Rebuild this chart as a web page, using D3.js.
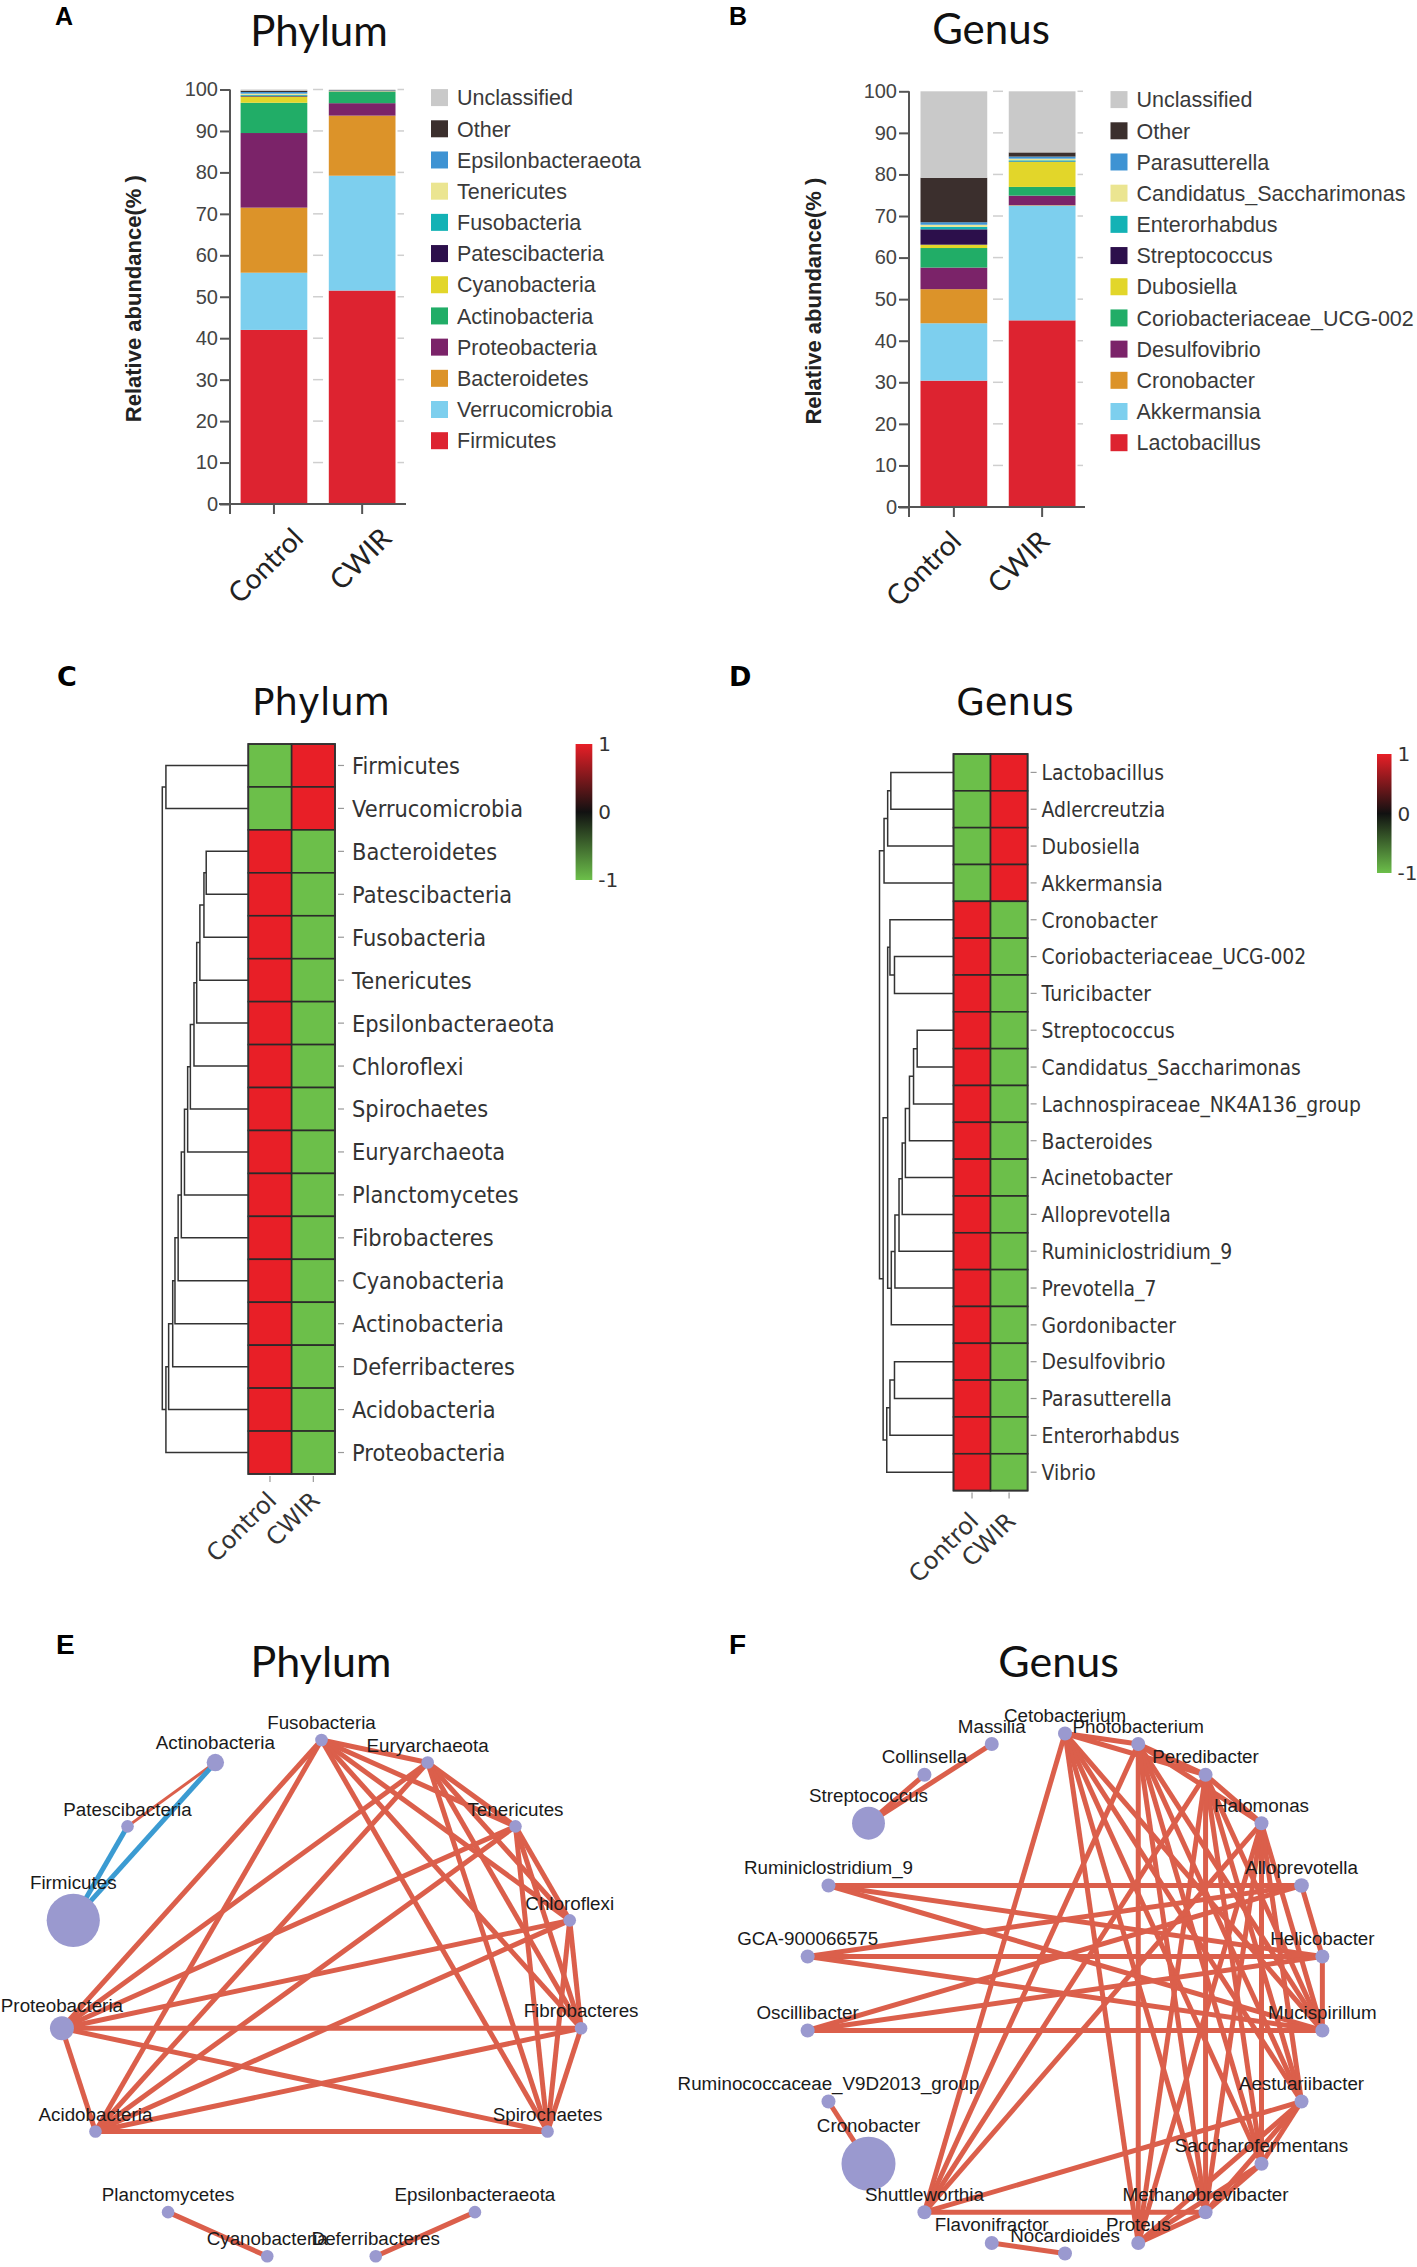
<!DOCTYPE html>
<html>
<head>
<meta charset="utf-8">
<script src="https://cdn.jsdelivr.net/npm/d3@7"></script>
<style>
  html,body{margin:0;padding:0;background:#fff;}
  svg{display:block;}
</style>
</head>
<body>
<svg id="chart" width="1417" height="2267"></svg>
<script>
// ================= DATA =================
const groups = ["Control", "CWIR"];
const yTicks = [0, 10, 20, 30, 40, 50, 60, 70, 80, 90, 100];

// Panel A: phylum relative abundance (%)
const phylumTaxa = ["Firmicutes","Verrucomicrobia","Bacteroidetes","Proteobacteria","Actinobacteria","Cyanobacteria","Patescibacteria","Fusobacteria","Tenericutes","Epsilonbacteraeota","Other","Unclassified"];
const phylumControl = [42.0, 13.8, 15.7, 18.0, 7.3, 1.5, 0.2, 0.2, 0.3, 0.4, 0.3, 0.3];
const phylumCWIR    = [51.5, 27.7, 14.5, 3.0, 2.7, 0.1, 0.05, 0.05, 0.05, 0.1, 0.1, 0.15];

// Panel B: genus relative abundance (%)
const genusTaxa = ["Lactobacillus","Akkermansia","Cronobacter","Desulfovibrio","Coriobacteriaceae_UCG-002","Dubosiella","Streptococcus","Enterorhabdus","Candidatus_Saccharimonas","Parasutterella","Other","Unclassified"];
const genusControl = [30.4, 13.8, 8.2, 5.2, 4.7, 0.8, 3.7, 0.6, 0.5, 0.6, 10.7, 20.8];
const genusCWIR    = [44.9, 27.6, 0.1, 2.3, 2.1, 6.0, 0.1, 0.3, 0.4, 0.5, 1.0, 14.7];

const stackColors = ["#dd2330","#7dcfee","#dc9329","#7b2369","#21ad67","#e2d62a","#2c0f4b","#13b2b5","#ebe591","#3e93d3","#3b2f2d","#c9c9c9"];

// Panel C: phylum heatmap (row z-scores)
const phylumRows = ["Firmicutes","Verrucomicrobia","Bacteroidetes","Patescibacteria","Fusobacteria","Tenericutes","Epsilonbacteraeota","Chloroflexi","Spirochaetes","Euryarchaeota","Planctomycetes","Fibrobacteres","Cyanobacteria","Actinobacteria","Deferribacteres","Acidobacteria","Proteobacteria"];
const phylumZControl = [-1,-1, 1, 1, 1, 1, 1, 1, 1, 1, 1, 1, 1, 1, 1, 1, 1];
const phylumZCWIR    = [ 1, 1,-1,-1,-1,-1,-1,-1,-1,-1,-1,-1,-1,-1,-1,-1,-1];
// dendrogram: [height, left, right]
const phylumTree = [190, [182, "Firmicutes", "Verrucomicrobia"],
  [182, [176, [167, [162, [155, [148, [141, [134, [128, [120, [114, [107, [98, [93, "Bacteroidetes", "Patescibacteria"], "Fusobacteria"], "Tenericutes"], "Epsilonbacteraeota"], "Chloroflexi"], "Spirochaetes"], "Euryarchaeota"], "Planctomycetes"], "Fibrobacteres"], "Cyanobacteria"], "Actinobacteria"], "Deferribacteres"], "Acidobacteria"], "Proteobacteria"]];

// Panel D: genus heatmap
const genusRows = ["Lactobacillus","Adlercreutzia","Dubosiella","Akkermansia","Cronobacter","Coriobacteriaceae_UCG-002","Turicibacter","Streptococcus","Candidatus_Saccharimonas","Lachnospiraceae_NK4A136_group","Bacteroides","Acinetobacter","Alloprevotella","Ruminiclostridium_9","Prevotella_7","Gordonibacter","Desulfovibrio","Parasutterella","Enterorhabdus","Vibrio"];
const genusZControl = [-1,-1,-1,-1, 1, 1, 1, 1, 1, 1, 1, 1, 1, 1, 1, 1, 1, 1, 1, 1];
const genusZCWIR    = [ 1, 1, 1, 1,-1,-1,-1,-1,-1,-1,-1,-1,-1,-1,-1,-1,-1,-1,-1,-1];
const genusTree = [163,
  [153, [145, [138, "Lactobacillus", "Adlercreutzia"], "Dubosiella"], "Akkermansia"],
  [155,
    [145, [140, "Cronobacter", [130, "Coriobacteriaceae_UCG-002", "Turicibacter"]],
      [137, [129, [120, [113, [106, [97, [88, [80, "Streptococcus", "Candidatus_Saccharimonas"], "Lachnospiraceae_NK4A136_group"], "Bacteroides"], "Acinetobacter"], "Alloprevotella"], "Ruminiclostridium_9"], "Prevotella_7"], "Gordonibacter"]],
    [147, [140, [130, "Desulfovibrio", "Parasutterella"], "Enterorhabdus"], "Vibrio"]]];
const zTicks = [1, 0, -1];

// Panel E: phylum correlation network (circular order, clockwise from top)
const phylumNodes = ["Fusobacteria","Euryarchaeota","Tenericutes","Chloroflexi","Fibrobacteres","Spirochaetes","Epsilonbacteraeota","Deferribacteres","Cyanobacteria","Planctomycetes","Acidobacteria","Proteobacteria","Firmicutes","Patescibacteria","Actinobacteria"];
const phylumNodeAbundance = [0.2, 0.1, 0.3, 0.1, 0.1, 0.1, 0.3, 0.1, 0.8, 0.1, 0.1, 9.5, 46.7, 0.1, 5.0];
// [source, target, correlation sign, weight]
const phylumEdges = [
  ["Fusobacteria","Euryarchaeota",1,5],["Fusobacteria","Tenericutes",1,5],["Fusobacteria","Chloroflexi",1,5],["Fusobacteria","Fibrobacteres",1,5],["Fusobacteria","Spirochaetes",1,5],["Fusobacteria","Acidobacteria",1,5],["Fusobacteria","Proteobacteria",1,5],
  ["Euryarchaeota","Tenericutes",1,5],["Euryarchaeota","Chloroflexi",1,5],["Euryarchaeota","Fibrobacteres",1,5],["Euryarchaeota","Spirochaetes",1,5],["Euryarchaeota","Acidobacteria",1,5],["Euryarchaeota","Proteobacteria",1,5],
  ["Tenericutes","Chloroflexi",1,5],["Tenericutes","Fibrobacteres",1,5],["Tenericutes","Spirochaetes",1,5],["Tenericutes","Acidobacteria",1,5],["Tenericutes","Proteobacteria",1,5],
  ["Chloroflexi","Fibrobacteres",1,5],["Chloroflexi","Spirochaetes",1,5],["Chloroflexi","Acidobacteria",1,5],["Chloroflexi","Proteobacteria",1,5],
  ["Fibrobacteres","Spirochaetes",1,5],["Fibrobacteres","Acidobacteria",1,5],["Fibrobacteres","Proteobacteria",1,5],
  ["Spirochaetes","Acidobacteria",1,5],["Spirochaetes","Proteobacteria",1,5],
  ["Acidobacteria","Proteobacteria",1,5],
  ["Patescibacteria","Actinobacteria",1,3],
  ["Firmicutes","Patescibacteria",-1,5],["Firmicutes","Actinobacteria",-1,5],
  ["Planctomycetes","Cyanobacteria",1,5],["Epsilonbacteraeota","Deferribacteres",1,5]
];

// Panel F: genus correlation network
const genusNodes = ["Cetobacterium","Photobacterium","Peredibacter","Halomonas","Alloprevotella","Helicobacter","Mucispirillum","Aestuariibacter","Saccharofermentans","Methanobrevibacter","Proteus","Nocardioides","Flavonifractor","Shuttleworthia","Cronobacter","Ruminococcaceae_V9D2013_group","Oscillibacter","GCA-900066575","Ruminiclostridium_9","Streptococcus","Collinsella","Massilia"];
const genusNodeAbundance = [0.01, 0.01, 0.01, 0.01, 0.3, 0.02, 0.2, 0.01, 0.05, 0.02, 0.01, 0.01, 0.05, 0.02, 4.05, 0.1, 0.1, 0.1, 0.1, 1.5, 0.05, 0.01];
const genusEdges = [
  ["Cetobacterium","Photobacterium",1,5],["Cetobacterium","Peredibacter",1,5],["Photobacterium","Peredibacter",1,5],["Photobacterium","Halomonas",1,5],["Peredibacter","Halomonas",1,5],
  ["Alloprevotella","Helicobacter",1,5],["Helicobacter","Mucispirillum",1,5],
  ["Aestuariibacter","Saccharofermentans",1,5],["Aestuariibacter","Methanobrevibacter",1,5],["Aestuariibacter","Proteus",1,5],["Saccharofermentans","Methanobrevibacter",1,5],["Saccharofermentans","Proteus",1,5],["Methanobrevibacter","Proteus",1,5],
  ["Cetobacterium","Mucispirillum",1,5],["Cetobacterium","Aestuariibacter",1,5],["Cetobacterium","Saccharofermentans",1,5],["Cetobacterium","Methanobrevibacter",1,5],["Cetobacterium","Proteus",1,5],
  ["Photobacterium","Mucispirillum",1,5],["Photobacterium","Aestuariibacter",1,5],["Photobacterium","Saccharofermentans",1,5],["Photobacterium","Methanobrevibacter",1,5],["Photobacterium","Proteus",1,5],
  ["Peredibacter","Mucispirillum",1,5],["Peredibacter","Aestuariibacter",1,5],["Peredibacter","Saccharofermentans",1,5],["Peredibacter","Methanobrevibacter",1,5],["Peredibacter","Proteus",1,5],
  ["Halomonas","Mucispirillum",1,5],["Halomonas","Aestuariibacter",1,5],["Halomonas","Saccharofermentans",1,5],["Halomonas","Methanobrevibacter",1,5],["Halomonas","Proteus",1,5],
  ["Shuttleworthia","Cetobacterium",1,5],["Shuttleworthia","Photobacterium",1,5],["Shuttleworthia","Peredibacter",1,5],["Shuttleworthia","Halomonas",1,5],["Shuttleworthia","Aestuariibacter",1,5],["Shuttleworthia","Methanobrevibacter",1,5],
  ["Ruminiclostridium_9","Alloprevotella",1,5],["Ruminiclostridium_9","Helicobacter",1,5],["Ruminiclostridium_9","Mucispirillum",1,5],
  ["GCA-900066575","Alloprevotella",1,5],["GCA-900066575","Helicobacter",1,5],["GCA-900066575","Mucispirillum",1,5],
  ["Oscillibacter","Alloprevotella",1,5],["Oscillibacter","Helicobacter",1,5],["Oscillibacter","Mucispirillum",1,5],
  ["Streptococcus","Collinsella",1,5],["Streptococcus","Massilia",1,5],
  ["Cronobacter","Ruminococcaceae_V9D2013_group",1,5],["Flavonifractor","Nocardioides",1,5]
];

// ================= DRAWING =================
const svg = d3.select("#chart");
svg.append("rect").attr("width", 1417).attr("height", 2267).attr("fill", "#fff");

const F_ARIAL = "'Liberation Sans', Arial, sans-serif";
const F_TITLE = "Lato, 'Open Sans', sans-serif";
const F_HM = "'DejaVu Sans', Verdana, sans-serif";

function panelLetter(t, x, y, family, size) {
  svg.append("text").attr("x", x).attr("y", y).text(t)
    .attr("font-family", family || F_ARIAL).attr("font-weight", "bold")
    .attr("font-size", size || 26).attr("fill", "#000");
}
function title(t, x, y, family, size) {
  svg.append("text").attr("x", x).attr("y", y).text(t)
    .attr("text-anchor", "middle").attr("font-family", family).attr("font-size", size).attr("fill", "#111");
}

// ---------- stacked bar panel ----------
function stackedPanel(cfg) {
  const g = svg.append("g");
  const rows = groups.map((grp, gi) => {
    const o = { group: grp };
    cfg.taxa.forEach((t, i) => o[t] = cfg.values[gi][i]);
    return o;
  });
  const series = d3.stack().keys(cfg.taxa)(rows);
  const y = d3.scaleLinear().domain([0, 100]).range([cfg.y0, cfg.y100]);
  const x = d3.scaleBand().domain(groups).range([cfg.barStart, cfg.barEnd]).paddingInner(0.2438).paddingOuter(0);
  const color = d3.scaleOrdinal().domain(cfg.taxa).range(stackColors);

  // grid dashes in gaps
  const gapCenter = (x("Control") + x.bandwidth() + x("CWIR")) / 2;
  yTicks.forEach(t => {
    g.append("line").attr("x1", gapCenter - 5).attr("x2", gapCenter + 5).attr("y1", y(t)).attr("y2", y(t)).attr("stroke", "#cfcfcf").attr("stroke-width", 1.5);
    g.append("line").attr("x1", x("CWIR") + x.bandwidth() + 2).attr("x2", cfg.axisEnd - 2).attr("y1", y(t)).attr("y2", y(t)).attr("stroke", "#cfcfcf").attr("stroke-width", 1.5);
  });

  g.selectAll("g.ser").data(series).join("g").attr("fill", d => color(d.key))
    .selectAll("rect").data(d => d).join("rect")
    .attr("x", d => x(d.data.group)).attr("width", x.bandwidth())
    .attr("y", d => y(d[1])).attr("height", d => Math.max(0, y(d[0]) - y(d[1])));

  // y axis
  const ax = g.append("g").attr("transform", `translate(${cfg.axisX},0)`)
    .call(d3.axisLeft(y).tickValues(yTicks).tickSize(10).tickSizeOuter(0).tickPadding(2));
  ax.select(".domain").remove();
  ax.selectAll("line").attr("stroke", "#555").attr("stroke-width", 2);
  ax.selectAll("text").attr("font-family", F_ARIAL).attr("font-size", 20).attr("fill", "#444");
  g.append("line").attr("x1", cfg.axisX).attr("x2", cfg.axisX).attr("y1", y(100)).attr("y2", y(0) + 10).attr("stroke", "#555").attr("stroke-width", 2);
  g.append("line").attr("x1", cfg.axisX - 11).attr("x2", cfg.axisEnd).attr("y1", y(0)).attr("y2", y(0)).attr("stroke", "#555").attr("stroke-width", 2);
  groups.forEach(grp => {
    const cx = x(grp) + x.bandwidth() / 2;
    g.append("line").attr("x1", cx).attr("x2", cx).attr("y1", y(0)).attr("y2", y(0) + 10).attr("stroke", "#555").attr("stroke-width", 2);
    g.append("text").attr("transform", `translate(${cx + cfg.labelDx},${y(0) + 36}) rotate(-45)`).attr("text-anchor", "end")
      .attr("font-family", F_TITLE).attr("font-size", 28).attr("fill", "#222").text(grp);
  });
  // y title
  g.append("text").attr("transform", `translate(${cfg.yTitleX},${(y(0) + y(100)) / 2 + 2}) rotate(-90)`)
    .attr("text-anchor", "middle").attr("dominant-baseline", "central")
    .attr("font-family", F_ARIAL).attr("font-weight", "bold").attr("font-size", 22).attr("fill", "#222")
    .text("Relative abundance(% )");

  // legend
  const legOrder = cfg.taxa.slice().reverse();
  const ly = d3.scalePoint().domain(legOrder).range([cfg.legY0, cfg.legY1]);
  legOrder.forEach(t => {
    g.append("rect").attr("x", cfg.legX).attr("y", ly(t) - 8.5).attr("width", 17).attr("height", 17).attr("fill", color(t));
    g.append("text").attr("x", cfg.legX + 26).attr("y", ly(t)).attr("dy", "0.36em")
      .attr("font-family", F_ARIAL).attr("font-size", 21.5).attr("fill", "#3a3a3a").text(t);
  });
}

// ---------- heatmap panel ----------
function heatPanel(cfg) {
  const g = svg.append("g");
  const yb = d3.scaleBand().domain(cfg.rows).range([cfg.top, cfg.bottom]);
  const xb = d3.scaleBand().domain(groups).range([cfg.left, cfg.right]);
  const col = d3.scaleLinear().domain([-1, 0, 1]).range(["#6cbf4a", "#111111", "#e81f27"]);
  const vals = [cfg.zc, cfg.zw];
  groups.forEach((grp, gi) => {
    cfg.rows.forEach((r, ri) => {
      g.append("rect").attr("x", xb(grp)).attr("y", yb(r)).attr("width", xb.bandwidth()).attr("height", yb.bandwidth())
        .attr("fill", col(vals[gi][ri])).attr("stroke", "#2a2a2a").attr("stroke-width", 1.6);
    });
  });
  g.append("rect").attr("x", cfg.left).attr("y", cfg.top).attr("width", cfg.right - cfg.left).attr("height", cfg.bottom - cfg.top)
    .attr("fill", "none").attr("stroke", "#333").attr("stroke-width", 1.6);
  // row labels
  cfg.rows.forEach(r => {
    const cy = yb(r) + yb.bandwidth() / 2;
    g.append("line").attr("x1", cfg.right + 3).attr("x2", cfg.right + 9).attr("y1", cy).attr("y2", cy).attr("stroke", "#999").attr("stroke-width", 1.2);
    g.append("text").attr("transform", `translate(${cfg.right + cfg.labelGap},${cy}) scale(1,${cfg.stretch})`).attr("dy", "0.36em")
      .attr("font-family", F_HM).attr("font-size", cfg.fontSize).attr("fill", "#333").text(r);
  });
  // column labels
  groups.forEach(grp => {
    const cx = xb(grp) + xb.bandwidth() / 2;
    g.append("line").attr("x1", cx).attr("x2", cx).attr("y1", cfg.bottom + 2).attr("y2", cfg.bottom + 8).attr("stroke", "#999").attr("stroke-width", 1.2);
    g.append("text").attr("transform", `translate(${cx + 8},${cfg.bottom + cfg.colLabelDy}) rotate(-45)`).attr("text-anchor", "end")
      .attr("font-family", F_HM).attr("font-size", 24).attr("fill", "#333").text(grp);
  });
  // dendrogram
  const hx = d3.scaleLinear().domain([0, cfg.tree[0]]).range([cfg.left, cfg.left - cfg.treeWidth]);
  function walk(node) {
    if (typeof node === "string") return { x: cfg.left, y: yb(node) + yb.bandwidth() / 2 };
    const a = walk(node[1]), b = walk(node[2]);
    const xx = hx(node[0]);
    g.append("path").attr("d", `M${a.x},${a.y}H${xx}V${b.y}H${b.x}`)
      .attr("fill", "none").attr("stroke", "#333").attr("stroke-width", 1.5);
    return { x: xx, y: (a.y + b.y) / 2 };
  }
  walk(cfg.tree);
  // colour key
  const defs = svg.append("defs");
  const gid = "grad" + cfg.id;
  const grad = defs.append("linearGradient").attr("id", gid).attr("x1", 0).attr("x2", 0).attr("y1", 0).attr("y2", 1);
  const ky = d3.scaleLinear().domain([1, -1]).range([cfg.keyTop, cfg.keyBottom]);
  [1, 0.5, 0, -0.5, -1].forEach(v => grad.append("stop").attr("offset", (ky(v) - cfg.keyTop) / (cfg.keyBottom - cfg.keyTop)).attr("stop-color", col(v)));
  g.append("rect").attr("x", cfg.keyX).attr("y", cfg.keyTop).attr("width", cfg.keyW).attr("height", cfg.keyBottom - cfg.keyTop).attr("fill", `url(#${gid})`);
  zTicks.forEach(v => g.append("text").attr("x", cfg.keyX + cfg.keyW + 6).attr("y", ky(v)).attr("dy", "0.36em")
    .attr("font-family", F_HM).attr("font-size", 20).attr("fill", "#333").text(v));
}

// ---------- network panel ----------
function networkPanel(cfg) {
  const g = svg.append("g");
  const n = cfg.nodes.length;
  const ang = d3.scaleLinear().domain([0, n]).range([-Math.PI / 2, 1.5 * Math.PI]);
  const rs = d3.scaleSqrt().domain([0, d3.max(cfg.abundance)]).range([0, cfg.maxR]);
  const pos = {};
  cfg.nodes.forEach((nm, i) => {
    pos[nm] = { x: cfg.cx + cfg.R * Math.cos(ang(i)), y: cfg.cy + cfg.R * Math.sin(ang(i)), r: Math.max(cfg.minR, rs(cfg.abundance[i])) };
  });
  cfg.edges.forEach(e => {
    const a = pos[e[0]], b = pos[e[1]];
    g.append("line").attr("x1", a.x).attr("y1", a.y).attr("x2", b.x).attr("y2", b.y)
      .attr("stroke", e[2] > 0 ? "#db5f4b" : "#3b9bd2").attr("stroke-width", e[3]).attr("stroke-linecap", "butt");
  });
  cfg.nodes.forEach(nm => {
    const p = pos[nm];
    g.append("circle").attr("cx", p.x).attr("cy", p.y).attr("r", p.r).attr("fill", "#9a99cf");
  });
  cfg.nodes.forEach(nm => {
    const p = pos[nm];
    g.append("text").attr("x", p.x).attr("y", p.y - p.r - 4.5).attr("text-anchor", "middle")
      .attr("font-family", F_ARIAL).attr("font-size", 18.8).attr("fill", "#1a1a1a").text(nm);
  });
}

// ---------- render ----------
panelLetter("A", 55, 25, F_ARIAL, 25);
panelLetter("B", 729, 25, F_ARIAL, 25);
title("Phylum", 319, 46, F_TITLE, 42);
title("Genus", 991, 44, F_TITLE, 42);

stackedPanel({ taxa: phylumTaxa, values: [phylumControl, phylumCWIR], y0: 504, y100: 89.5,
  barStart: 240.6, barEnd: 395.5, axisX: 230, axisEnd: 406, yTitleX: 133, labelDx: 31,
  legX: 431, legY0: 97.6, legY1: 440.7 });
stackedPanel({ taxa: genusTaxa, values: [genusControl, genusCWIR], y0: 507, y100: 91.3,
  barStart: 920.5, barEnd: 1075.5, axisX: 909, axisEnd: 1085, yTitleX: 813, labelDx: 9,
  legX: 1110.5, legY0: 99.6, legY1: 442.7 });

panelLetter("C", 57, 686, F_HM, 27);
panelLetter("D", 729, 686, F_HM, 27);
title("Phylum", 321, 715, F_HM, 37);
title("Genus", 1015, 715, F_HM, 37);

heatPanel({ id: "C", rows: phylumRows, zc: phylumZControl, zw: phylumZCWIR, tree: phylumTree,
  left: 248.3, right: 335, top: 744, bottom: 1474, treeWidth: 86, labelGap: 17, fontSize: 21, stretch: 1.12, colLabelDy: 28,
  keyX: 575.6, keyW: 16.7, keyTop: 744, keyBottom: 880 });
heatPanel({ id: "D", rows: genusRows, zc: genusZControl, zw: genusZCWIR, tree: genusTree,
  left: 953.5, right: 1027.6, top: 754, bottom: 1490.6, treeWidth: 74, labelGap: 14, fontSize: 18.8, stretch: 1.15, colLabelDy: 32,
  keyX: 1377, keyW: 14.5, keyTop: 754, keyBottom: 873 });

panelLetter("E", 56, 1654, F_ARIAL, 28);
panelLetter("F", 729, 1654, F_ARIAL, 28);
title("Phylum", 321, 1677, F_TITLE, 43);
title("Genus", 1058.6, 1677, F_TITLE, 43);

networkPanel({ nodes: phylumNodes, abundance: phylumNodeAbundance, edges: phylumEdges,
  cx: 321.5, cy: 2001, R: 261, maxR: 26.6, minR: 6.3 });
networkPanel({ nodes: genusNodes, abundance: genusNodeAbundance, edges: genusEdges,
  cx: 1065, cy: 1993.5, R: 260, maxR: 27, minR: 7 });
</script>
</body>
</html>
